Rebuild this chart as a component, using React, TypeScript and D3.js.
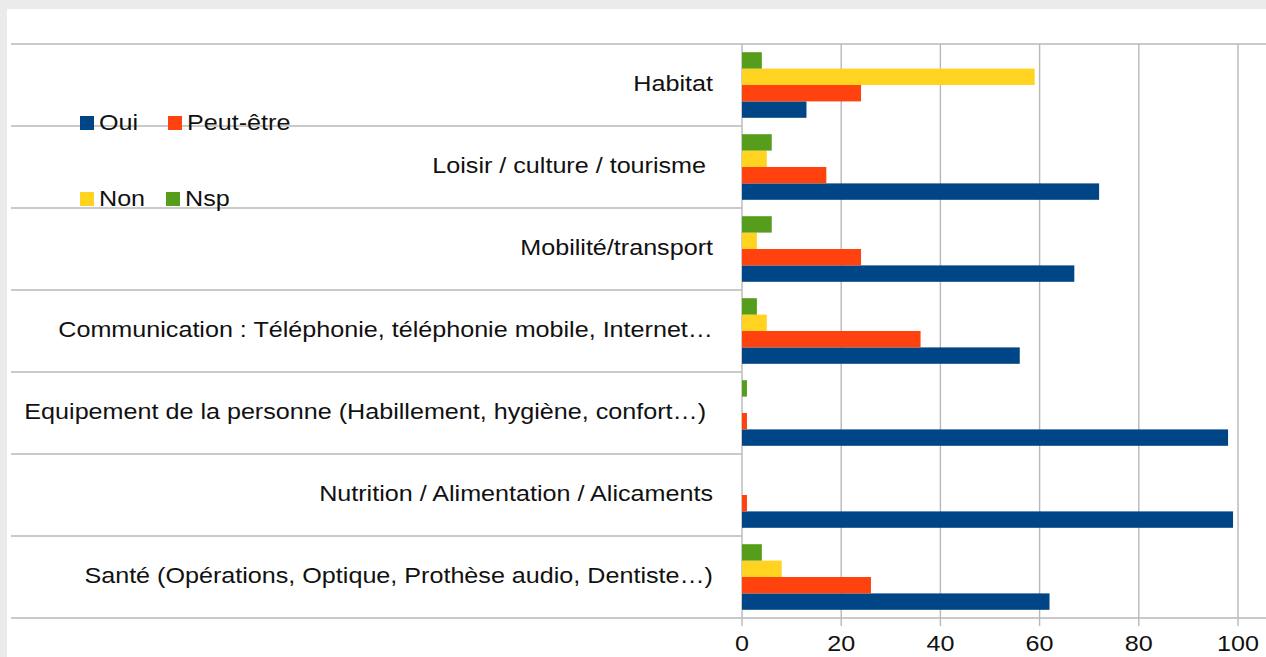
import React from 'react';
import * as d3 from 'd3';

// données (en %)
const categories = [
  'Habitat',
  'Loisir / culture / tourisme ',
  'Mobilité/transport',
  'Communication : Téléphonie, téléphonie mobile, Internet…',
  'Equipement de la personne (Habillement, hygiène, confort…) ',
  'Nutrition / Alimentation / Alicaments',
  'Santé (Opérations, Optique, Prothèse audio, Dentiste…)',
];
const seriesNames = ['Oui', 'Peut-être', 'Non', 'Nsp'];
const oui = [13, 72, 67, 56, 98, 99, 62];
const peutEtre = [24, 17, 24, 36, 1, 1, 26];
const non = [59, 5, 3, 5, 0, 0, 8];
const nsp = [4, 6, 6, 3, 1, 0, 4];
const xTicks = [0, 20, 40, 60, 80, 100];

const colors: Record<string, string> = {
  'Oui': '#004586',
  'Peut-être': '#ff420e',
  'Non': '#ffd320',
  'Nsp': '#579d1c',
};

const W = 1266;
const H = 657;
const plot = { left: 742, right: 1238, top: 44, bottom: 618 };
const lineLeft = 11;
const grid = '#b8b8b8';
const font = '"Liberation Sans", Arial, sans-serif';
const fs = 21.5;
const sx = 1.17; // texte un peu étiré comme dans la capture

const App = () => {
  const values: Record<string, number[]> = {
    'Oui': oui,
    'Peut-être': peutEtre,
    'Non': non,
    'Nsp': nsp,
  };

  const x = d3.scaleLinear().domain([0, 100]).range([plot.left, plot.right]);
  const y = d3.scaleBand<string>().domain(categories).range([plot.top, plot.bottom]).padding(0);
  // dans chaque groupe : Nsp en haut, Oui en bas
  const inner = d3
    .scaleBand<string>()
    .domain(['Nsp', 'Non', 'Peut-être', 'Oui'])
    .range([0, y.bandwidth()])
    .paddingInner(0)
    .paddingOuter(0.5);

  const legend = [
    { name: 'Oui', lx: 80, ly: 116 },
    { name: 'Peut-être', lx: 168, ly: 116 },
    { name: 'Non', lx: 80, ly: 192 },
    { name: 'Nsp', lx: 166, ly: 192 },
  ];

  return (
    <div style={{ position: 'fixed', left: 0, top: 0 }}>
      <svg width={W} height={H} style={{ display: 'block' }}>
        <rect x={0} y={0} width={W} height={H} fill="#ebebeb" />
        <rect x={7} y={9} width={W - 7} height={H - 9} fill="#ffffff" />

        {/* grille verticale */}
        {xTicks.map(t => (
          <line key={t} x1={x(t)} x2={x(t)} y1={plot.top} y2={plot.bottom + 8} stroke={grid} strokeWidth={1.4} />
        ))}

        {/* séparateurs de catégories */}
        {categories.slice(1).map(c => (
          <line key={c} x1={lineLeft} x2={plot.left} y1={y(c)!} y2={y(c)!} stroke={grid} strokeWidth={1.4} />
        ))}
        <line x1={lineLeft} x2={W} y1={plot.top} y2={plot.top} stroke={grid} strokeWidth={1.4} />
        <line x1={lineLeft} x2={W} y1={plot.bottom} y2={plot.bottom} stroke={grid} strokeWidth={1.4} />

        {/* barres */}
        {categories.map((c, i) => (
          <g key={c} transform={`translate(0,${y(c)})`}>
            {seriesNames.map(s => {
              const v = values[s][i];
              if (!v) return null;
              return (
                <rect
                  key={s}
                  x={x(0)}
                  y={inner(s)!}
                  width={x(v) - x(0)}
                  height={inner.bandwidth()}
                  fill={colors[s]}
                />
              );
            })}
          </g>
        ))}

        {/* libellés des catégories */}
        {categories.map(c => (
          <text
            key={c}
            transform={`translate(${plot.left - 29},${y(c)! + y.bandwidth() / 2 + 6}) scale(${sx},1)`}
            textAnchor="end"
            fontFamily={font}
            fontSize={fs}
            fill="#111"
            style={{ whiteSpace: 'pre' }}
          >
            {c}
          </text>
        ))}

        {/* axe des x */}
        {xTicks.map(t => (
          <text
            key={t}
            transform={`translate(${x(t)},${plot.bottom + 33}) scale(${sx},1)`}
            textAnchor="middle"
            fontFamily={font}
            fontSize={fs}
            fill="#111"
          >
            {t}
          </text>
        ))}

        {/* légende */}
        {legend.map(l => (
          <g key={l.name} transform={`translate(${l.lx},${l.ly})`}>
            <rect x={0} y={0} width={14} height={14} fill={colors[l.name]} />
            <text
              transform={`translate(19,14) scale(${sx},1)`}
              fontFamily={font}
              fontSize={fs}
              fill="#111"
            >
              {l.name}
            </text>
          </g>
        ))}
      </svg>
    </div>
  );
};

export default App;
